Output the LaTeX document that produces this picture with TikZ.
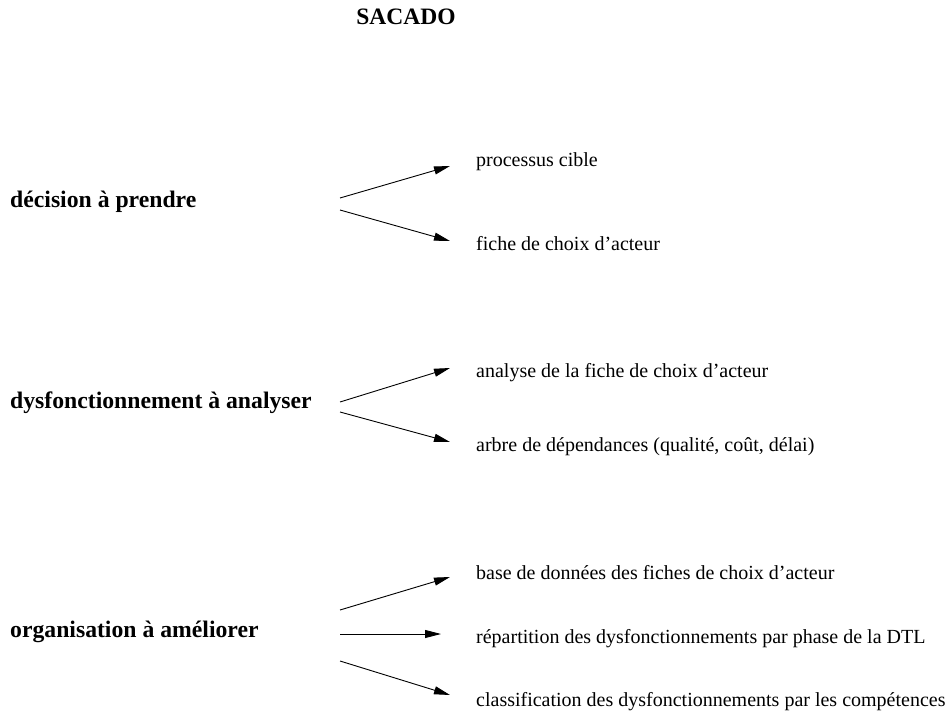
\documentclass[tikz,border=0pt]{standalone}
\usepackage{fontspec}
\setmainfont{Liberation Serif}
\usetikzlibrary{arrows.meta,positioning}
\tikzset{
  mainlabel/.style={anchor=base west, inner sep=0pt, font=\fontsize{23.7}{28}\selectfont\bfseries},
  sublabel/.style={anchor=base west, inner sep=0pt, font=\fontsize{20}{24}\selectfont},
  arr/.style={-{Triangle[length=16pt, width=8pt]}, line width=0.9pt}
}

\begin{document}
\begin{tikzpicture}[x=1pt,y=-1pt]
  \useasboundingbox (0,0) rectangle (951,715);
  \node[anchor=base, inner sep=0pt, font=\fontsize{23.5}{28}\selectfont\bfseries] (titre) at (406,24) {SACADO};
  % decisions
  \node[mainlabel] (decision) at (10,207) {décision à prendre};
  \node[sublabel] (processus) at (476,166) {processus cible};
  \node[sublabel] (fiche) at (476,250) {fiche de choix d'acteur};
  \coordinate (d1) at (340,198);
  \coordinate (d2) at (340,210);
  \coordinate (t1) at (450,166);
  \coordinate (t2) at (450,241);
  \draw[arr] (d1) -- (t1);
  \draw[arr] (d2) -- (t2);
  % dysfonctionnements
  \node[mainlabel] (dysf) at (10,408) {dysfonctionnement à analyser};
  \node[sublabel] (analyse) at (476,377) {analyse de la fiche de choix d'acteur};
  \node[sublabel] (arbre) at (476,451) {arbre de dépendances (qualité, coût, délai)};
  \coordinate (e1) at (340,402);
  \coordinate (e2) at (340,412);
  \coordinate (u1) at (450,368);
  \coordinate (u2) at (450,442);
  \draw[arr] (e1) -- (u1);
  \draw[arr] (e2) -- (u2);
  % organisation
  \node[mainlabel] (orga) at (10,637) {organisation à améliorer};
  \node[sublabel] (base) at (476,579) {base de données des fiches de choix d'acteur};
  \node[sublabel] (repart) at (476,643) {répartition des dysfonctionnements par phase de la DTL};
  \node[sublabel] (classif) at (476,706) {classification des dysfonctionnements par les compétences};
  \coordinate (o1) at (340,610);
  \coordinate (o2) at (340,634);
  \coordinate (o3) at (340,661);
  \coordinate (v1) at (450,577);
  \coordinate (v2) at (441,634);
  \coordinate (v3) at (450,695);
  \draw[arr] (o1) -- (v1);
  \draw[arr] (o2) -- (v2);
  \draw[arr] (o3) -- (v3);
\end{tikzpicture}
\end{document}
